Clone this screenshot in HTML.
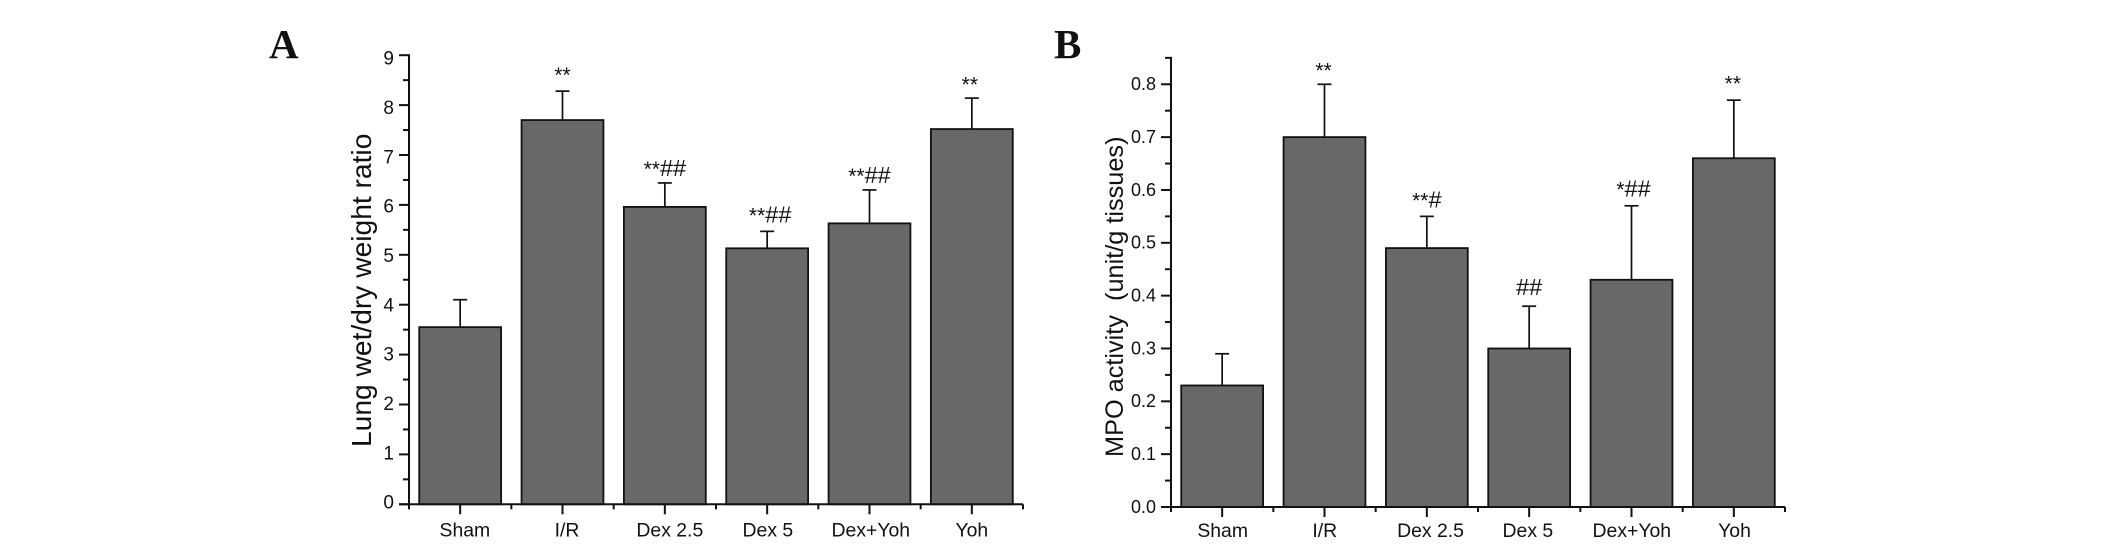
<!DOCTYPE html>
<html lang="en">
<head>
<meta charset="utf-8">
<title>Lung wet/dry weight ratio and MPO activity</title>
<style>
  html, body { margin: 0; padding: 0; background: #fff; }
  body { width: 2126px; height: 556px; overflow: hidden; }
  svg { display: block; }
  text { font-family: "Liberation Sans", sans-serif; fill: #111; white-space: pre; }
  .letter { font-family: "Liberation Serif", serif; font-weight: bold; font-size: 41px; }
</style>
</head>
<body>
<svg id="chart" xmlns="http://www.w3.org/2000/svg" width="2126" height="556" viewBox="0 0 2126 556">
  <text class="letter" x="269" y="58">A</text>
  <text class="letter" x="1054" y="58">B</text>
  <text transform="translate(371,447) rotate(-90)" font-size="28.2">Lung wet/dry weight ratio</text>
  <text transform="translate(1123,457) rotate(-90)" font-size="25.3">MPO activity  (unit/g tissues)</text>
</svg>
<script>
// ---- data ----
const categories = ["Sham", "I/R", "Dex 2.5", "Dex 5", "Dex+Yoh", "Yoh"];

const lungValues = [3.55, 7.7, 5.96, 5.13, 5.63, 7.52];
const lungErrors = [0.55, 0.58, 0.48, 0.34, 0.67, 0.62];
const lungMarks = ["", "**", "**##", "**##", "**##", "**"];
const lungTicks = ["0", "1", "2", "3", "4", "5", "6", "7", "8", "9"];

const mpoValues = [0.23, 0.70, 0.49, 0.30, 0.43, 0.66];
const mpoErrors = [0.06, 0.10, 0.06, 0.08, 0.14, 0.11];
const mpoMarks = ["", "**", "**#", "##", "*##", "**"];
const mpoTicks = ["0.0", "0.1", "0.2", "0.3", "0.4", "0.5", "0.6", "0.7", "0.8"];

// ---- drawing ----
const svg = document.getElementById('chart');
const NS = 'http://www.w3.org/2000/svg';
const INK = '#111';

function make(tag, props, parent) {
  const el = document.createElementNS(NS, tag);
  for (const k in props) el.setAttribute(k, props[k]);
  parent.appendChild(el);
  return el;
}

function drawPanel(id, cfg) {
  const g = make('g', {}, svg);
  
  

  const xBand = (cfg.xEnd - cfg.xStart) / cfg.cats.length;
  const xScale = i => cfg.xStart + xBand * (i + 0.5);
  const yScale = v => cfg.yBase - (v - cfg.yMin) * cfg.pxPerUnit;
  const labelScale = v => cfg.labelBase - (v - cfg.yMin) * cfg.labelPxPerUnit;
  const barWidth = xBand * 0.8;

  // error bars + bars
  cfg.cats.forEach((cat, i) => {
    const cx = xScale(i);
    const top = yScale(cfg.values[i]);
    const errTop = yScale(cfg.values[i] + cfg.errors[i]);

    const stem = make('line', { x1: cx, x2: cx, y1: top, y2: errTop, stroke: INK, 'stroke-width': 1.7 }, g);
    
    

    const cap = make('line', { x1: cx - 7, x2: cx + 7, y1: errTop, y2: errTop, stroke: INK, 'stroke-width': 1.7 }, g);
    
    

    const bar = make('rect', { x: cx - barWidth / 2, y: top, width: barWidth, height: cfg.yBase - top, fill: '#686868', stroke: INK, 'stroke-width': 1.8 }, g);
    
    

    const label = make('text', { x: cx + cfg.labelNudge[i], y: cfg.yBase + cfg.labelDrop, 'text-anchor': 'middle', 'font-size': 19.4 }, g);
    label.textContent = cat;
    
    

    const mark = cfg.marks[i];
    if (mark) {
      const ann = make('text', { x: cx + cfg.markNudge[i], y: errTop - cfg.markLift[i], 'text-anchor': 'middle' }, g);
      
      
      const stars = mark.replace(/#/g, '');
      const hashes = mark.replace(/\*/g, '');
      if (stars) {
        const s = make('tspan', { 'font-size': 21 }, ann);
        s.textContent = stars;
      }
      if (hashes) {
        const h = make('tspan', { 'font-size': 23.5 }, ann);
        h.textContent = hashes;
      }
    }
  });

  // y axis
  const yAxis = make('line', { x1: cfg.xStart, x2: cfg.xStart, y1: cfg.yBase + 1, y2: yScale(cfg.yTop) - 1, stroke: INK, 'stroke-width': 2 }, g);
  
  

  cfg.ticks.forEach((t, i) => {
    const v = parseFloat(t);
    const y = yScale(v);
    const tick = make('line', { x1: cfg.xStart - 10, x2: cfg.xStart, y1: y, y2: y, stroke: INK, 'stroke-width': 2 }, g);
    
    

    const label = make('text', { x: cfg.xStart - cfg.tickGap, y: labelScale(v) + 6.7, 'text-anchor': 'end', 'font-size': cfg.tickFont }, g);
    label.textContent = t;
    
    

    const step = parseFloat(cfg.ticks[1]) - parseFloat(cfg.ticks[0]);
    const half = v + step / 2;
    if (half <= cfg.yTop + 1e-6) {
      const my = yScale(half);
      const minor = make('line', { x1: cfg.xStart - 6, x2: cfg.xStart, y1: my, y2: my, stroke: INK, 'stroke-width': 2 }, g);
      
      
    }
  });

  // x axis
  const xAxis = make('line', { x1: cfg.xStart - 10, x2: cfg.xEnd, y1: cfg.yBase, y2: cfg.yBase, stroke: INK, 'stroke-width': 2 }, g);
  
  

  cfg.cats.forEach((cat, i) => {
    const major = make('line', { x1: xScale(i), x2: xScale(i), y1: cfg.yBase, y2: cfg.yBase + 10, stroke: INK, 'stroke-width': 2 }, g);
    
    
  });
  for (let i = 0; i <= cfg.cats.length; i++) {
    const x = cfg.xStart + xBand * i;
    const minor = make('line', { x1: x, x2: x, y1: cfg.yBase, y2: cfg.yBase + 5, stroke: INK, 'stroke-width': 2 }, g);
    
    
  }
}

drawPanel('panel-a', {
  cats: categories, values: lungValues, errors: lungErrors, marks: lungMarks, ticks: lungTicks,
  xStart: 409, xEnd: 1023, yBase: 504.3, yMin: 0, yTop: 9, pxPerUnit: 49.9,
  labelBase: 502, labelPxPerUnit: 49.33,
  tickGap: 15, tickFont: 19, labelDrop: 32,
  labelNudge: [4.7, 4.5, 5, 0.7, 1.3, 0],
  markNudge: [0, 0, 0, 3, 0, -2],
  markLift: [0, 9, 7, 9, 7, 6.4]
});

drawPanel('panel-b', {
  cats: categories, values: mpoValues, errors: mpoErrors, marks: mpoMarks, ticks: mpoTicks,
  xStart: 1171, xEnd: 1785, yBase: 507, yMin: 0, yTop: 0.85, pxPerUnit: 528.4,
  labelBase: 506.2, labelPxPerUnit: 528.4,
  tickGap: 15, tickFont: 18, labelDrop: 30,
  labelNudge: [0.5, 0.3, 3.7, -1.3, 0.3, 0.7],
  markNudge: [0, -1, 0, 0, 2, -1],
  markLift: [0, 7, 9, 11, 9.5, 9.7]
});
</script>
</body>
</html>
